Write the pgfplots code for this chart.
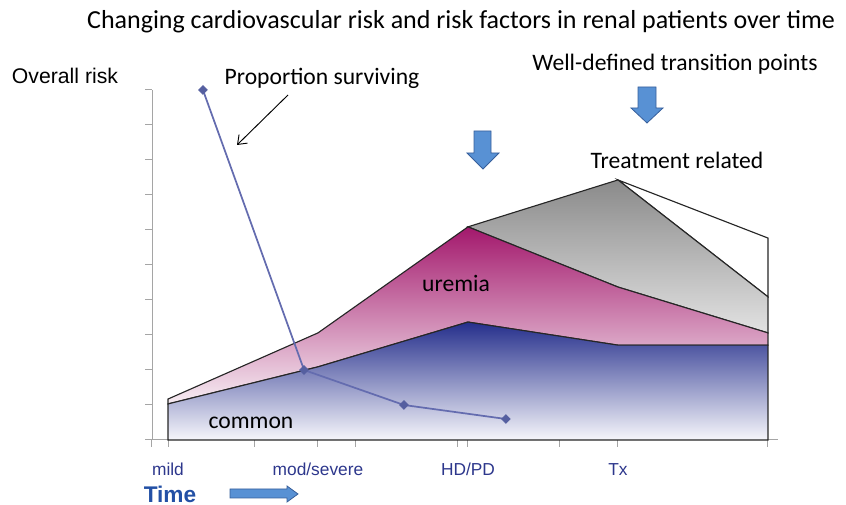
\documentclass[border=0pt]{standalone}
\usepackage{pgfplots}
\pgfplotsset{compat=1.18}
\usetikzlibrary{arrows.meta}
\usepackage{fontspec}
\setmainfont{Carlito}
\newfontfamily\arial{Liberation Sans}
\definecolor{axisgray}{RGB}{165,165,165}
\definecolor{ticknavy}{RGB}{45,55,140}
\definecolor{timeblue}{RGB}{35,80,165}
\definecolor{arrfill}{RGB}{88,145,212}
\definecolor{arrdraw}{RGB}{55,95,155}
\definecolor{survline}{RGB}{100,108,175}
\definecolor{survmark}{RGB}{85,95,160}
\definecolor{bluetop}{RGB}{37,47,140}
\definecolor{bluebot}{RGB}{246,246,251}
\definecolor{pinktop}{RGB}{163,24,108}
\definecolor{pinkbot}{RGB}{247,237,243}
\definecolor{graytop}{RGB}{138,138,138}
\definecolor{graybot}{RGB}{226,226,226}
\begin{document}
\begin{tikzpicture}
\begin{scope}[x=0.75pt,y=0.75pt]
\path[use as bounding box] (0,0) rectangle (846,505);
\end{scope}
\begin{axis}[
  at={(114pt,48.75pt)}, anchor=south west,
  scale only axis, width=469.5pt, height=262.5pt,
  xmin=-0.1067, xmax=4.067, ymin=0, ymax=10,
  axis lines*=left,
  axis line style={draw=axisgray, line width=0.75pt},
  tick style={draw=axisgray, line width=0.75pt},
  tick align=outside, major tick length=5pt,
  ytick={0,1,...,10}, yticklabels={},
  xtick={0,1,2,3}, xticklabels={mild,mod/severe,HD/PD,Tx},
  extra x ticks={-0.107,0.58,1.253,1.927,2.607,4},
  extra x tick labels={},
  extra x tick style={tick style={draw=axisgray, line width=0.75pt}},
  xticklabel style={font=\arial\fontsize{13}{15}\selectfont, text=ticknavy, anchor=center, yshift=-17pt},
  clip=false,
]
\addplot[draw=black!85, line width=0.85pt, fill=white] coordinates {(3,7.43) (4,5.77) (4,4.09)} -- cycle;
\addplot[draw=black!85, line width=0.85pt, top color=graytop, bottom color=graybot] coordinates {(2,6.09) (3,7.43) (4,4.09) (4,3.06) (3,4.37) (2,6.09)} -- cycle;
\addplot[draw=black!85, line width=0.85pt, top color=pinktop, bottom color=pinkbot] coordinates {(0,1.03) (0,1.17) (1,3.06) (2,6.09) (3,4.37) (4,3.06) (4,2.71) (3,2.71) (2,3.37) (1,2.09) (0,1.03)} -- cycle;
\addplot[draw=black!85, line width=0.85pt, top color=bluetop, bottom color=bluebot] coordinates {(0,0) (0,1.03) (1,2.09) (2,3.37) (3,2.71) (4,2.71) (4,0)} -- cycle;
\addplot[color=survline, line width=1.3pt, mark=square*, mark size=2.3pt, mark options={fill=survmark, draw=survmark, rotate=45, line width=0.5pt}] coordinates {(0.233,10) (0.907,2) (1.573,1) (2.253,0.6)};
\end{axis}
\begin{scope}[x=0.75pt,y=0.75pt]
\node[inner sep=0, font=\fontsize{19.5}{22}\selectfont] at (461,483) {Changing cardiovascular risk and risk factors in renal patients over time};
\node[inner sep=0, font=\arial\fontsize{15.9}{18}\selectfont] at (65,429) {Overall risk};
\node[inner sep=0, font=\fontsize{17.7}{20}\selectfont] at (322,427) {Proportion surviving};
\node[inner sep=0, font=\fontsize{17.7}{20}\selectfont] at (675,441) {Well-defined transition points};
\node[inner sep=0, font=\fontsize{17.7}{20}\selectfont] at (677,345) {Treatment related};
\node[inner sep=0, font=\fontsize{17.7}{20}\selectfont] at (456,222) {uremia};
\node[inner sep=0, font=\fontsize{17.7}{20}\selectfont] at (251,82.5) {common};
\node[inner sep=0, font=\arial\bfseries\fontsize{17}{20}\selectfont, text=timeblue] at (170,11) {Time};
\draw[-{Straight Barb[length=6pt,width=9pt]}, line width=0.7pt] (288,410) -- (237,360);
\filldraw[fill=arrfill, draw=arrdraw, line width=0.6pt] (474,374) -- (491,374) -- (491,352) -- (499,352) -- (483,336) -- (467,352) -- (474,352) -- cycle;
\filldraw[fill=arrfill, draw=arrdraw, line width=0.6pt] (638,418) -- (656,418) -- (656,397) -- (663,397) -- (647,382) -- (631,397) -- (638,397) -- cycle;
\filldraw[fill=arrfill, draw=arrdraw, line width=0.6pt] (230,16) -- (287,16) -- (287,19) -- (298,11) -- (287,3) -- (287,7) -- (230,7) -- cycle;
\end{scope}
\end{tikzpicture}
\end{document}
